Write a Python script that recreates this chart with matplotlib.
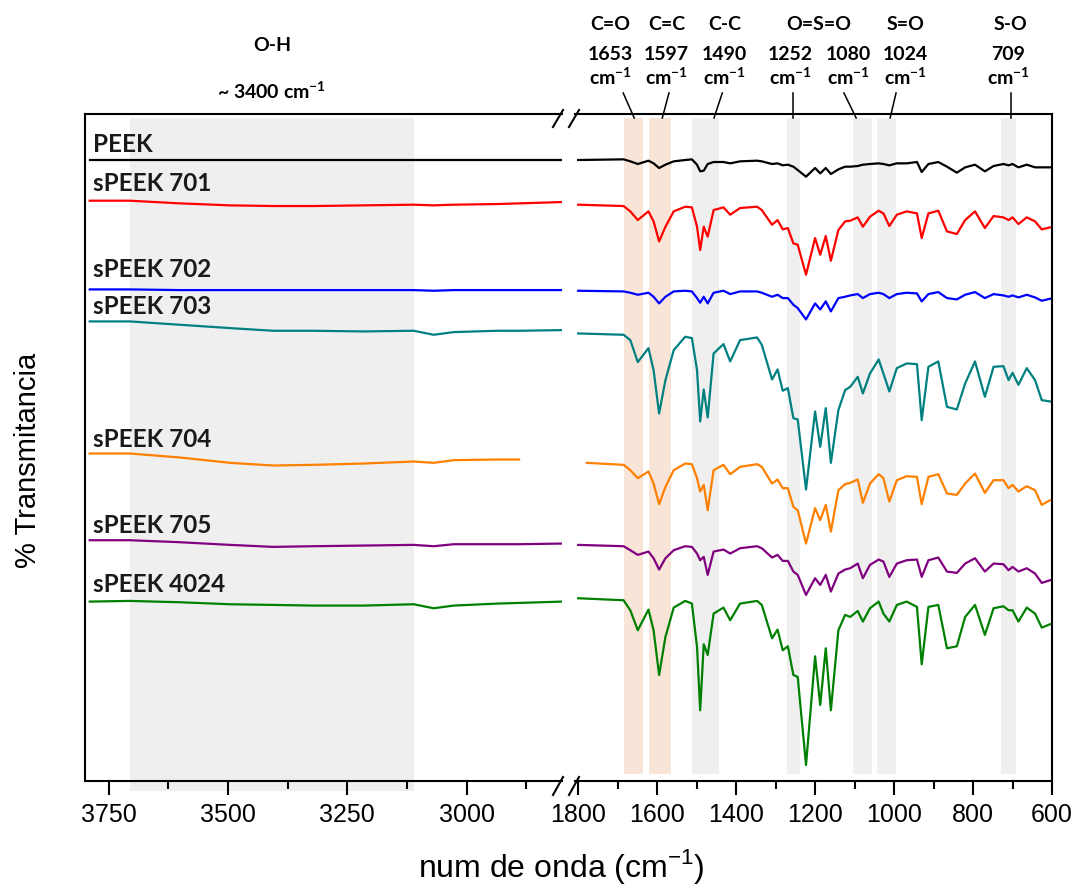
import matplotlib.pyplot as plt
from matplotlib.lines import Line2D
from matplotlib.ticker import MultipleLocator

# wavenumbers (cm-1) for the high-frequency part (left panel)
wn_left = [3790, 3706, 3601, 3496, 3405, 3321, 3216, 3111, 3069, 3027, 2936, 2890, 2799]
# wavenumbers for the fingerprint region (right panel)
wn_right = [1800, 1685, 1668, 1649, 1622, 1609, 1595, 1579, 1558, 1529,
            1512, 1499, 1491, 1482, 1472, 1457, 1432, 1415, 1390, 1347,
            1335, 1309, 1295, 1282, 1269, 1255, 1244, 1223, 1200, 1187,
            1173, 1160, 1141, 1124, 1111, 1092, 1079, 1061, 1039, 1027,
            1012, 993, 968, 942, 930, 913, 888, 866, 841, 820,
            795, 770, 748, 723, 710, 700, 685, 664, 643, 626,
            605]
wn_right_704 = [1778] + wn_right[1:]

names = ["PEEK", "sPEEK 701", "sPEEK 702", "sPEEK 703", "sPEEK 704", "sPEEK 705", "sPEEK 4024"]
colors = ["black", "#ff0000", "#0000ff", "#008080", "#ff8000", "#800080", "#008000"]

# transmittance (a.u., stacked)
left_peek = [93.1] * 13
left_701 = [87.0, 87.0, 86.6, 86.3, 86.2, 86.2, 86.3, 86.4, 86.3, 86.4, 86.5, 86.6, 86.8]
left_702 = [73.7, 73.7, 73.6, 73.6, 73.6, 73.6, 73.6, 73.6, 73.5, 73.6, 73.6, 73.6, 73.6]
left_703 = [68.9, 68.9, 68.4, 67.9, 67.5, 67.5, 67.4, 67.5, 66.9, 67.3, 67.5, 67.5, 67.6]
left_704 = [49.1, 49.1, 48.5, 47.7, 47.3, 47.4, 47.6, 47.9, 47.7, 48.1, 48.2, 48.2]
left_705 = [36.1, 36.1, 35.8, 35.4, 35.1, 35.2, 35.3, 35.4, 35.2, 35.5, 35.5, 35.5, 35.6]
left_4024 = [26.9, 27.0, 26.8, 26.5, 26.4, 26.3, 26.3, 26.5, 25.9, 26.3, 26.6, 26.7, 26.9]

right_peek = [93.1, 93.2, 92.9, 92.5, 93.0, 92.6, 91.9, 92.4, 92.9, 93.1,
              93.2, 92.4, 91.4, 91.5, 92.5, 92.8, 92.8, 92.6, 92.9, 93.0,
              92.9, 92.5, 92.6, 92.3, 92.4, 92.1, 91.6, 90.6, 91.9, 91.1,
              91.9, 91.0, 91.7, 92.1, 92.1, 92.2, 92.4, 92.5, 92.6, 92.5,
              92.3, 92.6, 92.6, 92.8, 91.3, 92.5, 92.8, 92.1, 91.2, 92.0,
              92.4, 91.4, 92.2, 92.5, 92.3, 92.5, 92.0, 92.4, 92.0, 92.0,
              92.0]
right_701 = [86.4, 86.2, 85.4, 84.1, 85.4, 83.9, 80.9, 83.1, 85.4, 86.1,
             86.0, 83.1, 79.6, 83.1, 81.6, 85.6, 86.0, 84.9, 85.9, 86.1,
             85.6, 83.4, 84.1, 82.7, 82.9, 80.6, 80.4, 75.9, 81.4, 78.9,
             81.7, 78.0, 82.6, 83.9, 84.0, 84.5, 83.1, 84.6, 85.5, 85.1,
             83.2, 84.9, 85.4, 85.1, 81.4, 85.1, 85.5, 82.4, 82.0, 84.1,
             85.4, 82.9, 84.7, 84.5, 84.1, 84.5, 83.5, 84.5, 83.9, 82.7,
             83.0]
right_702 = [73.5, 73.4, 73.2, 72.9, 73.2, 72.6, 71.6, 72.6, 73.4, 73.5,
             73.4, 72.4, 71.7, 72.6, 71.6, 73.2, 73.5, 73.0, 73.4, 73.4,
             73.2, 72.6, 72.9, 72.4, 72.4, 71.4, 70.9, 69.2, 71.6, 70.7,
             71.9, 70.4, 72.4, 72.6, 72.8, 73.0, 72.4, 73.0, 73.2, 73.0,
             72.4, 73.0, 73.2, 73.1, 71.9, 73.0, 73.3, 72.4, 72.2, 72.9,
             73.3, 72.4, 73.0, 72.8, 72.6, 72.8, 72.5, 72.9, 72.5, 72.0,
             72.3]
right_703 = [67.1, 66.9, 66.1, 62.8, 64.9, 61.6, 55.1, 60.1, 64.6, 66.6,
             66.4, 61.6, 53.9, 58.7, 54.5, 64.1, 65.5, 62.9, 66.1, 66.5,
             65.4, 60.2, 61.7, 58.5, 58.9, 54.4, 54.2, 43.7, 55.4, 50.1,
             55.9, 47.7, 55.6, 58.6, 59.1, 60.6, 58.1, 61.1, 63.2, 61.1,
             58.4, 61.9, 62.6, 62.5, 54.1, 62.1, 62.9, 56.1, 55.7, 59.6,
             62.9, 57.6, 62.1, 62.2, 60.1, 61.2, 59.4, 61.9, 60.1, 57.1,
             56.9]
right_704 = [47.7, 47.4, 46.6, 45.4, 46.4, 44.6, 41.5, 44.1, 46.6, 47.6,
             47.5, 45.4, 43.4, 44.4, 40.6, 46.6, 47.4, 46.0, 47.1, 47.5,
             47.1, 44.6, 45.2, 43.9, 43.9, 41.1, 40.6, 35.6, 40.9, 39.1,
             41.4, 37.4, 43.6, 44.5, 44.7, 45.2, 41.7, 44.6, 46.0, 45.4,
             41.9, 45.1, 45.7, 45.6, 41.5, 45.6, 46.0, 43.1, 42.9, 44.6,
             46.1, 43.2, 45.1, 45.1, 43.9, 44.4, 43.4, 44.2, 43.6, 41.4,
             42.1]
right_705 = [35.4, 35.2, 34.6, 33.9, 34.4, 33.4, 31.7, 33.4, 34.6, 35.2,
             35.1, 34.1, 33.1, 33.6, 30.9, 34.4, 34.7, 34.1, 34.9, 35.2,
             34.9, 33.5, 33.9, 33.0, 33.0, 31.4, 30.9, 27.9, 30.4, 29.4,
             30.9, 28.4, 31.1, 31.7, 31.9, 32.6, 30.4, 32.4, 33.2, 32.9,
             30.6, 32.6, 33.1, 33.2, 30.6, 33.1, 33.5, 31.4, 31.2, 32.6,
             33.4, 31.4, 32.6, 32.5, 31.6, 32.1, 31.4, 31.9, 31.1, 29.7,
             30.1]
right_4024 = [27.4, 27.1, 25.6, 22.6, 25.7, 22.6, 15.9, 21.6, 26.0, 27.0,
              26.6, 20.1, 10.6, 20.5, 18.9, 25.1, 26.0, 24.1, 26.6, 27.0,
              26.4, 21.4, 22.7, 19.6, 20.2, 15.9, 15.6, 2.4, 18.7, 11.4,
              19.9, 10.6, 22.6, 24.9, 24.6, 25.5, 23.9, 25.9, 26.9, 25.1,
              23.9, 26.4, 26.9, 26.1, 17.5, 26.1, 26.4, 19.9, 20.2, 24.6,
              26.4, 21.9, 25.9, 26.2, 25.6, 25.6, 23.9, 26.0, 25.1, 23.0,
              23.5]

left_series = [left_peek, left_701, left_702, left_703, left_704, left_705, left_4024]
right_series = [right_peek, right_701, right_702, right_703, right_704, right_705, right_4024]
label_y = [94.3, 88.5, 75.6, 70.0, 50.1, 37.2, 28.3]

# bands: (from, to, color)
bands = [(1684, 1635, "#f8e5d8"), (1620, 1565, "#f8e5d8"), (1511, 1443, "#efefef"),
         (1271, 1238, "#efefef"), (1104, 1056, "#efefef"), (1043, 995, "#efefef"),
         (729, 691, "#efefef")]
group_names = ["C=O", "C=C", "C-C", "O=S=O", "S=O", "S-O"]
group_x = [1719, 1575, 1430, 1192, 972, 706]
peak_wn = ["1653", "1597", "1490", "1252", "1080", "1024", "709"]
peak_x = [1719, 1577, 1430, 1263, 1116, 972, 711]
leader_top = [1686, 1570, 1435, 1256, 1127, 995, 704]
leader_bot = [1658, 1587, 1456, 1256, 1096, 1010, 704]

plt.rcParams["font.family"] = ["Liberation Sans", "DejaVu Sans"]
plt.rcParams["mathtext.fontset"] = "custom"
plt.rcParams["mathtext.rm"] = "Liberation Sans"
plt.rcParams["mathtext.bf"] = "Lato:bold"

fig = plt.figure(figsize=(10.77, 8.85), dpi=100)
ax1 = fig.add_axes([0.0789, 0.1175, 0.4429, 0.7537])
ax2 = fig.add_axes([0.5339, 0.1175, 0.4429, 0.7537])

for ax in (ax1, ax2):
    ax.set_ylim(0, 100)
    ax.set_yticks([])
    ax.tick_params(axis="x", which="major", length=10, width=1.5, labelsize=18, pad=6)
    ax.tick_params(axis="x", which="minor", length=6, width=1.5)
    for s in ax.spines.values():
        s.set_linewidth(1.5)

ax1.set_xlim(3800, 2800)
ax1.xaxis.set_major_locator(MultipleLocator(250))
ax1.xaxis.set_minor_locator(MultipleLocator(125))
ax1.spines["right"].set_visible(False)

ax2.set_xlim(1808, 600)
ax2.xaxis.set_major_locator(MultipleLocator(200))
ax2.xaxis.set_minor_locator(MultipleLocator(100))
ax2.spines["left"].set_visible(False)

# O-H band
oh = ax1.axvspan(3706, 3111, ymin=-0.015, ymax=0.994, color="#efefef", lw=0, zorder=0)
oh.set_clip_on(False)
for a, b, c in bands:
    ax2.axvspan(a, b, ymin=0.01, ymax=0.994, color=c, lw=0, zorder=0)

for i in range(len(names)):
    xl = wn_left[:len(left_series[i])]
    ax1.plot(xl, left_series[i], color=colors[i], lw=1.6, solid_joinstyle="round")
    xr = wn_right_704 if names[i] == "sPEEK 704" else wn_right
    ax2.plot(xr, right_series[i], color=colors[i], lw=1.6, solid_joinstyle="round")
    ax1.text(3784, label_y[i], names[i], fontsize=17.5, fontweight="bold",
             family="Lato", va="baseline", ha="left", color="#1a1a1a")

# annotations above the fingerprint region
tr = ax2.get_xaxis_transform()
fs = 14
for n, x in zip(group_names, group_x):
    ax2.text(x, 1.126, n, transform=tr, ha="center", va="baseline",
             fontsize=fs, fontweight="bold", family="Lato")
for p, x in zip(peak_wn, peak_x):
    ax2.text(x, 1.081, p, transform=tr, ha="center", va="baseline",
             fontsize=fs, fontweight="bold", family="Lato")
    ax2.text(x, 1.0435, r"cm$^{\mathbf{-1}}$", transform=tr, ha="center", va="baseline",
             fontsize=fs, fontweight="bold", family="Lato")
for xt, xb in zip(leader_top, leader_bot):
    ax2.plot([xt, xb], [1.0315, 0.994], transform=tr, color="black", lw=1.1, clip_on=False)

tr1 = ax1.get_xaxis_transform()
ax1.text(3408, 1.103, "O-H", transform=tr1, ha="center", va="center",
         fontsize=fs, fontweight="bold", family="Lato")
ax1.text(3408, 1.034, r"~ 3400 cm$^{\mathbf{-1}}$", transform=tr1, ha="center", va="center",
         fontsize=fs, fontweight="bold", family="Lato")

# break marks
W, H = 1077.0, 885.0
for y0, y1 in [(127, 110), (795, 777)]:
    for x0 in (553, 569):
        fig.add_artist(Line2D([x0 / W, (x0 + 10) / W], [1 - y0 / H, 1 - y1 / H],
                              color="black", lw=1.5))

fig.text(28 / W, 1 - 460 / H, "% Transmitancia", rotation=90, fontsize=21,
         ha="center", va="center")
fig.text(561 / W, 1 - 877 / H, "num de onda (cm$^{-1}$)", fontsize=23,
         ha="center", va="baseline")

fig.savefig("out.png", dpi=100)
